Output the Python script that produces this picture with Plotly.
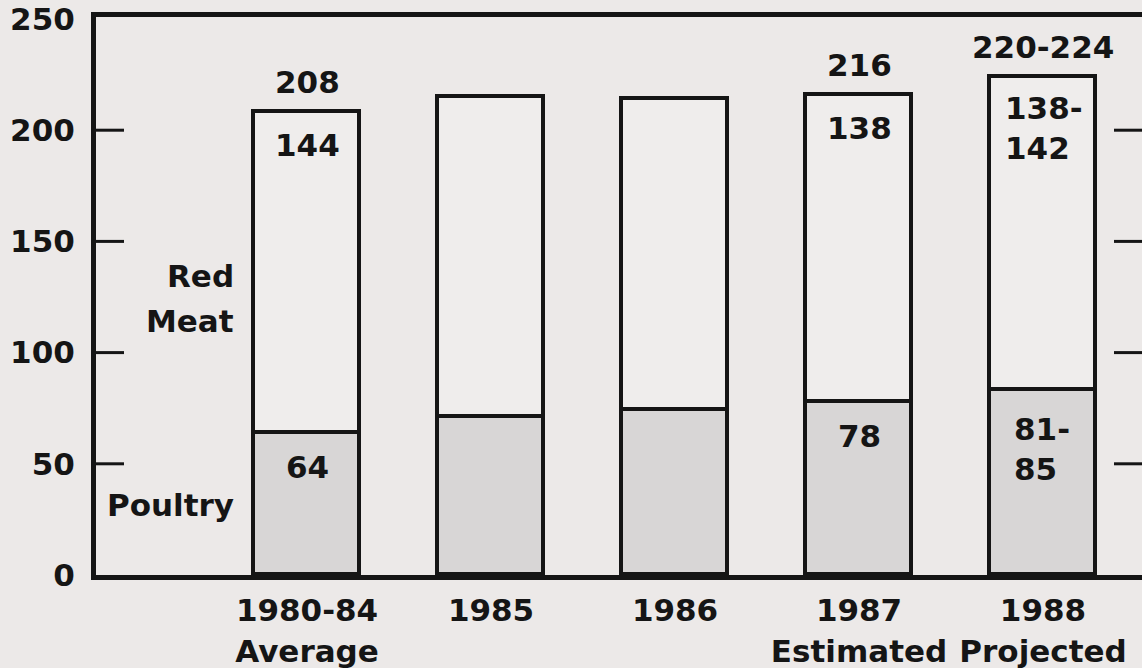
import plotly.graph_objects as go

# ---- data ----
categories = ["1980-84<br>Average", "1985", "1986", "1987<br>Estimated", "1988<br>Projected"]
poultry = [64, 71, 74, 78, 83]
red_meat = [144, 144, 140, 138, 141]
total_labels = ["208", "", "", "216", "220-224"]
red_labels = ["144", "", "", "138", "138-<br>142"]
poultry_labels = ["64", "", "", "78", "81-<br>85"]
y_ticks = [0, 50, 100, 150, 200, 250]
tick_marks = [50, 100, 150, 200]

x = list(range(1, len(categories) + 1))
totals = [p + r for p, r in zip(poultry, red_meat)]

BG = "#ECE9E8"
INK = "#151515"
FONT = dict(family="DejaVu Sans", size=31, color=INK, weight="bold")
BAR_W = 0.58
YR = [0, 250.9]
XR = [-0.147, 5.538]
W, H = 1142, 668
M = dict(l=96, r=0, t=17, b=93)
TICK_LEN = 28  # px
px_per_unit = (W - M["l"] - M["r"]) / (XR[1] - XR[0])
tick_dx = TICK_LEN / px_per_unit

fig = go.Figure()
fig.add_trace(go.Bar(x=x, y=poultry, width=BAR_W, name="Poultry",
                     marker=dict(color="#D8D6D6", line=dict(color=INK, width=3.8)),
                     hoverinfo="skip"))
fig.add_trace(go.Bar(x=x, y=red_meat, width=BAR_W, name="Red Meat",
                     marker=dict(color="#EFEDEC", line=dict(color=INK, width=3.8)),
                     hoverinfo="skip"))

ann = []
for i, xi in enumerate(x):
    if total_labels[i]:
        ann.append(dict(x=xi, y=totals[i], text=total_labels[i], showarrow=False,
                        yanchor="middle", yshift=30, font=FONT))
    t = red_labels[i]
    if t:
        if "<br>" in t:
            ann.append(dict(x=xi, y=totals[i], text=t, showarrow=False, xanchor="left",
                            align="left", xshift=-40, yanchor="middle", yshift=-51, font=FONT))
        else:
            ann.append(dict(x=xi, y=totals[i], text=t, showarrow=False,
                            yanchor="middle", yshift=-33, font=FONT))
    t = poultry_labels[i]
    if t:
        if "<br>" in t:
            ann.append(dict(x=xi, y=poultry[i], text=t, showarrow=False, xanchor="left",
                            align="left", xshift=-31, yanchor="middle", yshift=-59, font=FONT))
        else:
            ann.append(dict(x=xi, y=poultry[i], text=t, showarrow=False,
                            yanchor="middle", yshift=-34, font=FONT))

# in-plot series labels (left of first bar)
left_edge = x[0] - BAR_W / 2
ann.append(dict(x=left_edge, y=0.535, yref="paper", text="Red", showarrow=False,
                xanchor="right", xshift=-18, yanchor="middle", font=FONT))
ann.append(dict(x=left_edge, y=0.455, yref="paper", text="Meat", showarrow=False,
                xanchor="right", xshift=-18, yanchor="middle", font=FONT))
ann.append(dict(x=left_edge, y=0.125, yref="paper", text="Poultry", showarrow=False,
                xanchor="right", xshift=-18, yanchor="middle", font=FONT))

# inward tick marks on both sides (0 and 250 sit on the frame, so they are skipped)
shapes = []
for v in tick_marks:
    shapes.append(dict(type="line", xref="x", yref="y", x0=XR[0], x1=XR[0] + tick_dx,
                       y0=v, y1=v, line=dict(color=INK, width=3), layer="above"))
    shapes.append(dict(type="line", xref="x", yref="y", x0=XR[1] - tick_dx, x1=XR[1],
                       y0=v, y1=v, line=dict(color=INK, width=3), layer="above"))

fig.update_layout(
    width=W, height=H,
    margin=dict(M, autoexpand=False),
    paper_bgcolor=BG, plot_bgcolor=BG,
    barmode="stack", bargap=0, showlegend=False,
    font=FONT,
    annotations=ann,
    shapes=shapes,
    xaxis=dict(range=XR, tickvals=x, ticktext=categories,
               showline=True, linecolor=INK, linewidth=5, mirror=True,
               ticks="", showgrid=False, zeroline=False, tickfont=FONT,
               ticklabelstandoff=4, automargin=False, fixedrange=True),
    yaxis=dict(range=YR, tickvals=y_ticks, showline=True, linecolor=INK,
               linewidth=5, ticks="", showgrid=False, zeroline=False, tickfont=FONT,
               ticklabelstandoff=10, ticklabeloverflow="allow", automargin=False,
               fixedrange=True),
)

fig.write_html("out.html", config={"displayModeBar": False},
               post_script="document.body.style.margin='0px';document.body.style.overflow='hidden';")
